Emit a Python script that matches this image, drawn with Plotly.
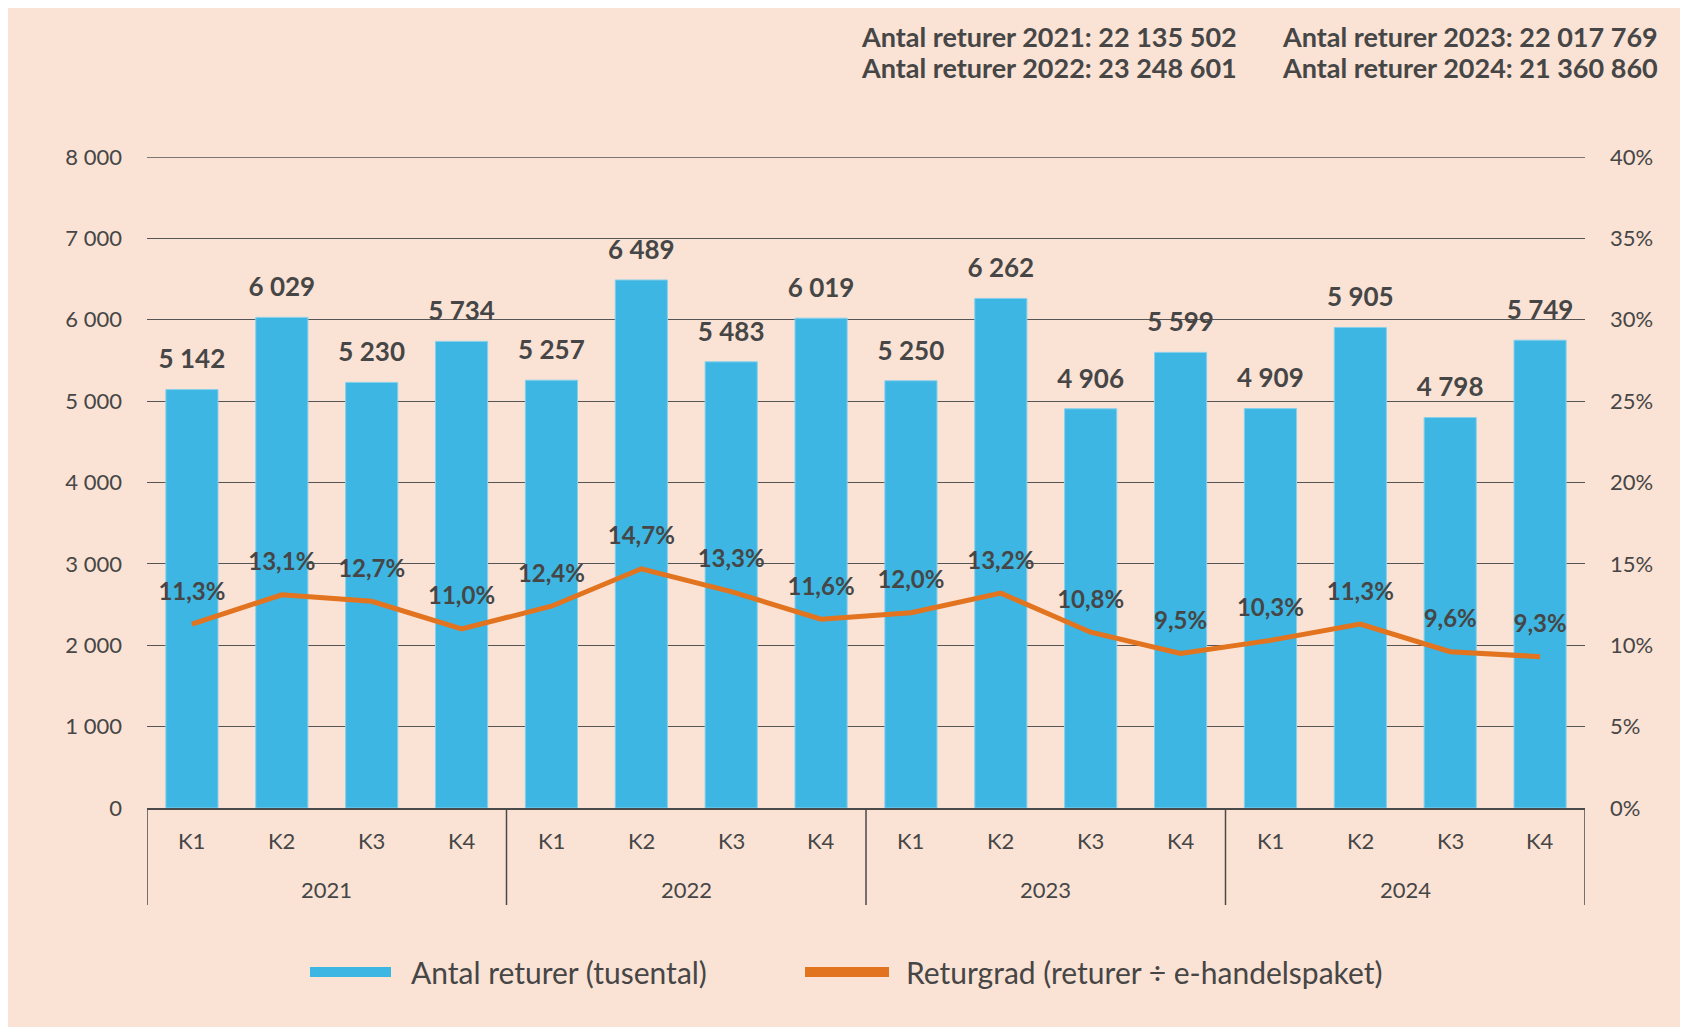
import plotly.graph_objects as go

# ---- data ----
years = ["2021", "2022", "2023", "2024"]
quarters = ["K1", "K2", "K3", "K4"]
returns_thousands = [5142, 6029, 5230, 5734, 5257, 6489, 5483, 6019,
                     5250, 6262, 4906, 5599, 4909, 5905, 4798, 5749]
return_rate_pct = [11.3, 13.1, 12.7, 11.0, 12.4, 14.7, 13.3, 11.6,
                   12.0, 13.2, 10.8, 9.5, 10.3, 11.3, 9.6, 9.3]
yearly_totals = ["22 135 502", "23 248 601", "22 017 769", "21 360 860"]
left_ticks = [0, 1000, 2000, 3000, 4000, 5000, 6000, 7000, 8000]
right_ticks = [0, 5, 10, 15, 20, 25, 30, 35, 40]
legend_names = ["Antal returer (tusental)", "Returgrad (returer ÷ e-handelspaket)"]

# ---- styles ----
BG = "#FAE2D4"
BLUE = "#3DB6E3"
ORANGE = "#E2731F"
TXT = "#464646"
LINE = "#4A4A4A"
GRID = "#555555"
FONT = "Lato, 'Open Sans', sans-serif"

W, H = 1688, 1027
OFF = 8  # page margin of the html body
L, R, T, B = 139, 111, 149, 227
PW, PH = W - L - R, H - T - B


def px_x(sx):
    return (sx - OFF - L) / PW


def px_y(sy):
    return (H - B - (sy - OFF)) / PH


cats = [f"{y} {q}" for y in years for q in quarters]

fig = go.Figure()
fig.add_trace(go.Bar(
    x=cats, y=returns_thousands, name=legend_names[0],
    marker=dict(color=BLUE, line=dict(color="#86D0EC", width=1)),
    showlegend=False,
))
fig.add_trace(go.Scatter(
    x=cats, y=returns_thousands, mode="markers+text",
    texttemplate="%{y:,}",
    textposition="top center",
    marker=dict(size=22, opacity=0),
    textfont=dict(family=FONT, size=26, color=TXT, weight="bold"),
    showlegend=False, hoverinfo="skip", cliponaxis=False,
))
fig.add_trace(go.Scatter(
    x=cats, y=return_rate_pct, yaxis="y2", mode="lines",
    name=legend_names[1],
    line=dict(color=ORANGE, width=5),
    showlegend=False,
))
fig.add_trace(go.Scatter(
    x=cats, y=return_rate_pct, yaxis="y2", mode="markers+text",
    texttemplate="%{y:.1f}%",
    textposition="top center",
    marker=dict(size=28, opacity=0),
    textfont=dict(family=FONT, size=24, color=TXT, weight="bold"),
    showlegend=False, hoverinfo="skip", cliponaxis=False,
))

annotations = []
shapes = []

# top gridline (plotly omits the gridline on the plot edge)
shapes.append(dict(type="line", xref="paper", yref="y", x0=0, x1=1,
                   y0=left_ticks[-1], y1=left_ticks[-1],
                   line=dict(color=GRID, width=1.3), layer="below"))

# yearly totals (top right)
col_x = [859, 859, 1280, 1280]
row_y = [36, 68, 36, 68]
for yr, tot, sx, sy in zip(years, yearly_totals, col_x, row_y):
    annotations.append(dict(
        xref="paper", yref="paper", x=px_x(sx), y=px_y(sy),
        xanchor="left", yanchor="middle",
        text=f"<b>Antal returer {yr}: {tot}</b>", showarrow=False,
        font=dict(family=FONT, size=27, color=TXT),
    ))

# two-level category axis: quarter labels, year labels and dividers
for i, c in enumerate(cats):
    annotations.append(dict(
        xref="x", yref="paper", x=c, y=px_y(841), xanchor="center", yanchor="middle",
        text=quarters[i % 4], showarrow=False,
        font=dict(family=FONT, size=22, color=TXT),
    ))
for g, yr in enumerate(years):
    annotations.append(dict(
        xref="x", yref="paper", x=g * 4 + 1.5, y=px_y(889), xanchor="center",
        yanchor="middle", text=yr, showarrow=False,
        font=dict(family=FONT, size=22, color=TXT),
    ))
for g in range(len(years) + 1):
    shapes.append(dict(
        type="line", xref="x", yref="paper", x0=g * 4 - 0.5, x1=g * 4 - 0.5,
        y0=0, y1=px_y(905), line=dict(color=LINE, width=1.5),
    ))

# legend (drawn by hand to get the wide swatches)
annotations.append(dict(xref="paper", yref="paper", x=px_x(409), y=px_y(972),
                        xanchor="left", yanchor="middle", text=legend_names[0],
                        showarrow=False, font=dict(family=FONT, size=30, color=TXT)))
annotations.append(dict(xref="paper", yref="paper", x=px_x(904), y=px_y(972),
                        xanchor="left", yanchor="middle", text=legend_names[1],
                        showarrow=False, font=dict(family=FONT, size=30, color=TXT)))
shapes.append(dict(type="rect", xref="paper", yref="paper", x0=px_x(310), x1=px_x(391),
                   y0=px_y(977), y1=px_y(967), fillcolor=BLUE, line=dict(width=0)))
shapes.append(dict(type="rect", xref="paper", yref="paper", x0=px_x(805), x1=px_x(889),
                   y0=px_y(977), y1=px_y(967), fillcolor=ORANGE, line=dict(width=0)))

fig.update_layout(
    width=W, height=H,
    margin=dict(l=L, r=R, t=T, b=B),
    paper_bgcolor=BG, plot_bgcolor=BG,
    separators=", ",
    bargap=0.42,
    font=dict(family=FONT, color=TXT, size=22),
    xaxis=dict(
        type="category", categoryorder="array", categoryarray=cats,
        showline=True, linecolor=LINE, linewidth=1.5,
        showticklabels=False, ticks="", showgrid=False,
        range=[-0.5, len(cats) - 0.5],
    ),
    yaxis=dict(
        range=[left_ticks[0], left_ticks[-1]], tickvals=left_ticks,
        ticktext=[f"{v:,}".replace(",", " ") for v in left_ticks],
        showgrid=True, gridcolor=GRID, gridwidth=1.3,
        zeroline=False, showline=False, ticks="",
        ticklabelstandoff=24,
        tickfont=dict(family=FONT, size=22, color=TXT),
    ),
    yaxis2=dict(
        range=[right_ticks[0], right_ticks[-1]], tickvals=right_ticks,
        ticktext=[f"{v}%" for v in right_ticks],
        overlaying="y", side="right", showgrid=False, zeroline=False,
        showline=False, ticks="", ticklabelstandoff=24,
        tickfont=dict(family=FONT, size=22, color=TXT),
    ),
    annotations=annotations,
    shapes=shapes,
    showlegend=False,
)

fig.write_html("out.html")
